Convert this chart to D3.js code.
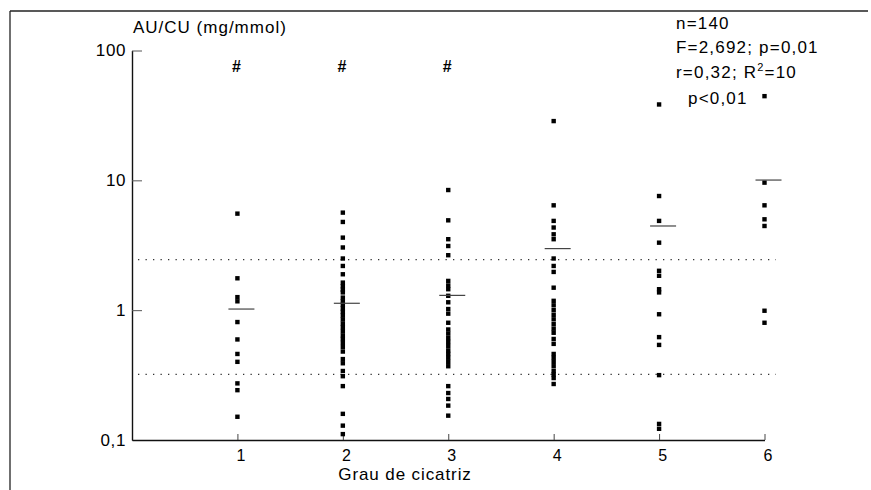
<!DOCTYPE html>
<html><head><meta charset="utf-8">
<script src="https://cdn.jsdelivr.net/npm/d3@7/dist/d3.min.js"></script>
<style>
html,body{margin:0;padding:0;background:#fff;}
text{font-family:"Liberation Sans",Arial,Helvetica,sans-serif;fill:#000;}
</style></head>
<body>
<svg id="chart" width="871" height="490"></svg>
<script>
// ---- data ----
const categories = [1, 2, 3, 4, 5, 6];
const xTickLabels = ["1", "2", "3", "4", "5", "6"];
const yTickValues = [0.1, 1, 10, 100];
const yTickLabels = ["0,1", "1", "10", "100"];
const group1 = [5.54, 1.76, 1.26, 1.17, 0.81, 0.595, 0.46, 0.40, 0.273, 0.242, 0.151];
const group2 = [5.64, 4.78, 3.62, 3.04, 2.50, 2.19, 1.89, 1.63, 1.53, 1.44, 1.37, 1.25, 1.17, 1.10, 1.03, 0.97, 0.91, 0.85, 0.79, 0.74, 0.69, 0.64, 0.60, 0.56, 0.52, 0.48, 0.42, 0.39, 0.34, 0.31, 0.26, 0.159, 0.129, 0.111];
const group3 = [8.42, 4.92, 3.52, 3.12, 2.65, 1.68, 1.55, 1.45, 1.29, 1.15, 1.02, 0.94, 0.80, 0.71, 0.66, 0.61, 0.57, 0.53, 0.49, 0.46, 0.43, 0.40, 0.37, 0.26, 0.23, 0.207, 0.184, 0.154];
const group4 = [28.6, 6.42, 4.87, 4.33, 3.84, 3.52, 2.50, 2.19, 1.97, 1.49, 1.18, 1.09, 1.0, 0.92, 0.85, 0.78, 0.72, 0.67, 0.60, 0.55, 0.46, 0.43, 0.40, 0.37, 0.34, 0.32, 0.30, 0.27];
const group5 = [38.4, 7.57, 4.87, 3.31, 2.01, 1.84, 1.45, 1.37, 0.93, 0.62, 0.54, 0.316, 0.133, 0.122];
const group6 = [44.5, 9.6, 6.42, 5.01, 4.45, 0.99, 0.80];
const groupMeans = [1.02, 1.13, 1.30, 2.98, 4.45, 10.05];
const referenceLines = [2.45, 0.32];
const hashGroups = [1, 2, 3];
const hashValue = 76;
const statLines = ["n=140", "F=2,692; p=0,01", "r=0,32; R\u00B2=10", "p<0,01"];

const groups = [group1, group2, group3, group4, group5, group6];

// ---- drawing ----
const svg = d3.select("#chart");
const x = d3.scaleLinear().domain([0, 6]).range([132, 764.5]);
const y = d3.scaleLog().domain([0.1, 100]).range([440, 50.5]);
const FONT = "Liberation Sans, Arial, sans-serif";

// frame
svg.append("line").attr("x1", 10).attr("x2", 868).attr("y1", 11).attr("y2", 11)
  .attr("stroke", "#222").attr("stroke-width", 1.3);
svg.append("line").attr("x1", 10).attr("x2", 10).attr("y1", 11).attr("y2", 490)
  .attr("stroke", "#222").attr("stroke-width", 1.3);

// reference dotted lines
svg.selectAll("line.ref").data(referenceLines).enter().append("line")
  .attr("class", "ref")
  .attr("x1", 138).attr("x2", 776)
  .attr("y1", d => y(d)).attr("y2", d => y(d))
  .attr("stroke", "#333").attr("stroke-width", 1.2)
  .attr("stroke-dasharray", "1.3,6.2");

// axes
const yAxis = d3.axisLeft(y).tickValues(yTickValues)
  .tickFormat((d, i) => yTickLabels[i]).tickSize(-10).tickSizeOuter(0).tickPadding(6);
const gy = svg.append("g").attr("transform", "translate(132,0)").call(yAxis);
gy.select(".domain").attr("stroke", "#111").attr("stroke-width", 1.4);
gy.selectAll(".tick line").attr("stroke", "#555").attr("stroke-width", 1);
gy.selectAll(".tick text").attr("font-size", 17).attr("letter-spacing", 0.6)
  .attr("font-family", FONT).attr("fill", "#000");

const xAxis = d3.axisBottom(x).tickValues(categories)
  .tickFormat((d, i) => xTickLabels[i]).tickSize(-6).tickSizeOuter(0).tickPadding(10);
const gx = svg.append("g").attr("transform", "translate(0,440)").call(xAxis);
gx.select(".domain").attr("stroke", "#111").attr("stroke-width", 1.4);
gx.selectAll(".tick line").attr("stroke", "#444").attr("stroke-width", 1);
gx.selectAll(".tick text").attr("font-size", 16)
  .attr("font-family", FONT).attr("fill", "#000")
  .attr("dx", 3);

// points
const pts = [];
groups.forEach((arr, i) => arr.forEach(v => pts.push({c: categories[i], v})));
svg.selectAll("rect.pt").data(pts).enter().append("rect")
  .attr("class", "pt")
  .attr("x", d => x(d.c) - 2.2).attr("y", d => y(d.v) - 2.2)
  .attr("width", 4.4).attr("height", 4.4).attr("fill", "#000");

// group mean lines
svg.selectAll("line.mean").data(groupMeans).enter().append("line")
  .attr("class", "mean")
  .attr("x1", (d, i) => x(categories[i]) - 9).attr("x2", (d, i) => x(categories[i]) + 17)
  .attr("y1", d => y(d)).attr("y2", d => y(d))
  .attr("stroke", "#444").attr("stroke-width", 1.2);

// # markers
svg.selectAll("text.hash").data(hashGroups).enter().append("text")
  .attr("class", "hash")
  .attr("x", d => x(d) - 1).attr("y", y(hashValue) + 6)
  .attr("text-anchor", "middle").attr("font-size", 16).attr("font-weight", "bold")
  .text("#");

// axis titles
svg.append("text").attr("x", 133).attr("y", 33).attr("font-size", 17)
  .attr("letter-spacing", 1.0).text("AU/CU (mg/mmol)");
svg.append("text").attr("x", 405).attr("y", 480).attr("font-size", 17)
  .attr("text-anchor", "middle").attr("letter-spacing", 0.9).text("Grau de cicatriz");

// stats annotation
const statX = [676, 676, 676, 688];
const statY = [29, 53, 78, 104];
statLines.forEach((s, i) => {
  const t = svg.append("text").attr("x", statX[i]).attr("y", statY[i])
    .attr("font-size", 17).attr("letter-spacing", 1.2);
  if (s.indexOf("\u00B2") >= 0) {
    const parts = s.split("\u00B2");
    t.append("tspan").text(parts[0]);
    t.append("tspan").attr("dy", -7).attr("font-size", 11).text("2");
    t.append("tspan").attr("dy", 7).text(parts[1]);
  } else {
    t.text(s);
  }
});
</script>
</body></html>
